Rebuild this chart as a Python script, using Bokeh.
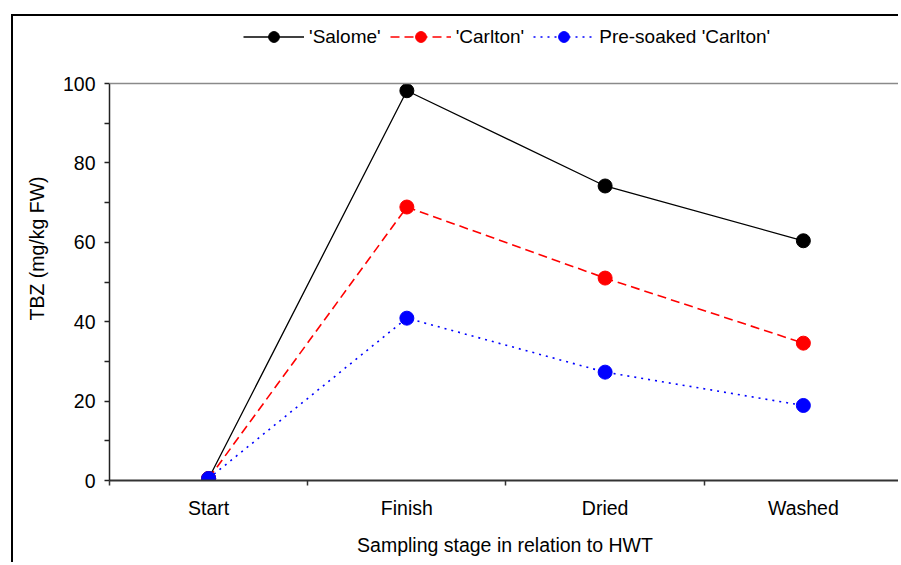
from bokeh.plotting import figure
from bokeh.models import Range1d, FixedTicker, Legend, LegendItem, Span
from bokeh.embed import file_html
from bokeh.resources import INLINE

stages = ["Start", "Finish", "Dried", "Washed"]
salome = [0.5, 98.2, 74.2, 60.4]
carlton = [0.5, 68.9, 51.0, 34.6]
presoaked = [0.5, 40.9, 27.3, 18.9]
y_ticks = [0, 20, 40, 60, 80, 100]
y_minor = [10, 30, 50, 70, 90]

xs = list(range(1, len(stages) + 1))
FONT = "Liberation Sans"
FS = "19.5px"

p = figure(width=887, height=548, x_range=Range1d(0.5, 4.49), y_range=Range1d(0, 116.9),
           output_backend="svg", toolbar_location=None,
           min_border_left=96, min_border_right=0, min_border_top=0, min_border_bottom=84)
p.styles = {"border-left": "2px solid black", "border-top": "2px solid black",
            "margin-left": "11px", "margin-top": "14px"}
p.outline_line_color = None
p.grid.visible = False
p.background_fill_color = "white"

p.add_layout(Span(location=100, dimension="width", line_color="#8a8a8a", line_width=1.5))

series = [
    ("'Salome'", salome, "black", "solid", 1.3),
    ("'Carlton'", carlton, "red", "9 5", 1.6),
    ("Pre-soaked 'Carlton'", presoaked, "blue", "2 5", 1.6),
]
items = []
for name, vals, col, dash, lw in series:
    l = p.line(xs, vals, line_color=col, line_dash=dash, line_width=lw)
    c = p.scatter(xs, vals, size=14, fill_color=col, line_color=col)
    items.append(LegendItem(label=name, renderers=[l, c]))

legend = Legend(items=items, orientation="horizontal", location=(134, 430), margin=0,
                padding=5, spacing=9, glyph_width=61, glyph_height=27, label_standoff=5,
                label_text_font=FONT, label_text_font_size="19px", label_text_color="black",
                border_line_color=None, background_fill_alpha=0)
p.add_layout(legend, "center")

xa = p.xaxis[0]
xa.ticker = FixedTicker(ticks=xs, minor_ticks=[x - 0.5 for x in xs] + [len(xs) + 0.5])
xa.major_label_overrides = {x: s for x, s in zip(xs, stages)}
xa.major_tick_line_color = None
xa.major_tick_out = 5
xa.minor_tick_out = 5
xa.minor_tick_in = 0
xa.minor_tick_line_color = "#333333"
xa.minor_tick_line_width = 1.5
xa.axis_line_color = "#333333"
xa.axis_line_width = 2
xa.major_label_standoff = 11
xa.axis_label = "Sampling stage in relation to HWT"
xa.axis_label_standoff = 12

ya = p.yaxis[0]
ya.ticker = FixedTicker(ticks=y_ticks, minor_ticks=y_minor)
ya.bounds = (0, 100)
ya.major_tick_out = 5
ya.major_tick_in = 0
ya.minor_tick_out = 5
ya.minor_tick_in = 0
ya.major_tick_line_color = "#222222"
ya.minor_tick_line_color = "#222222"
ya.major_tick_line_width = 1.5
ya.minor_tick_line_width = 1.5
ya.axis_line_color = "#222222"
ya.axis_line_width = 1.5
ya.major_label_standoff = 9
ya.axis_label = "TBZ (mg/kg FW)"
ya.axis_label_standoff = 12

for ax in (xa, ya):
    ax.major_label_text_font = FONT
    ax.major_label_text_font_size = FS
    ax.major_label_text_color = "black"
    ax.axis_label_text_font = FONT
    ax.axis_label_text_font_size = FS
    ax.axis_label_text_font_style = "normal"
    ax.axis_label_text_color = "black"

open("out.html", "w").write(file_html(p, INLINE))
